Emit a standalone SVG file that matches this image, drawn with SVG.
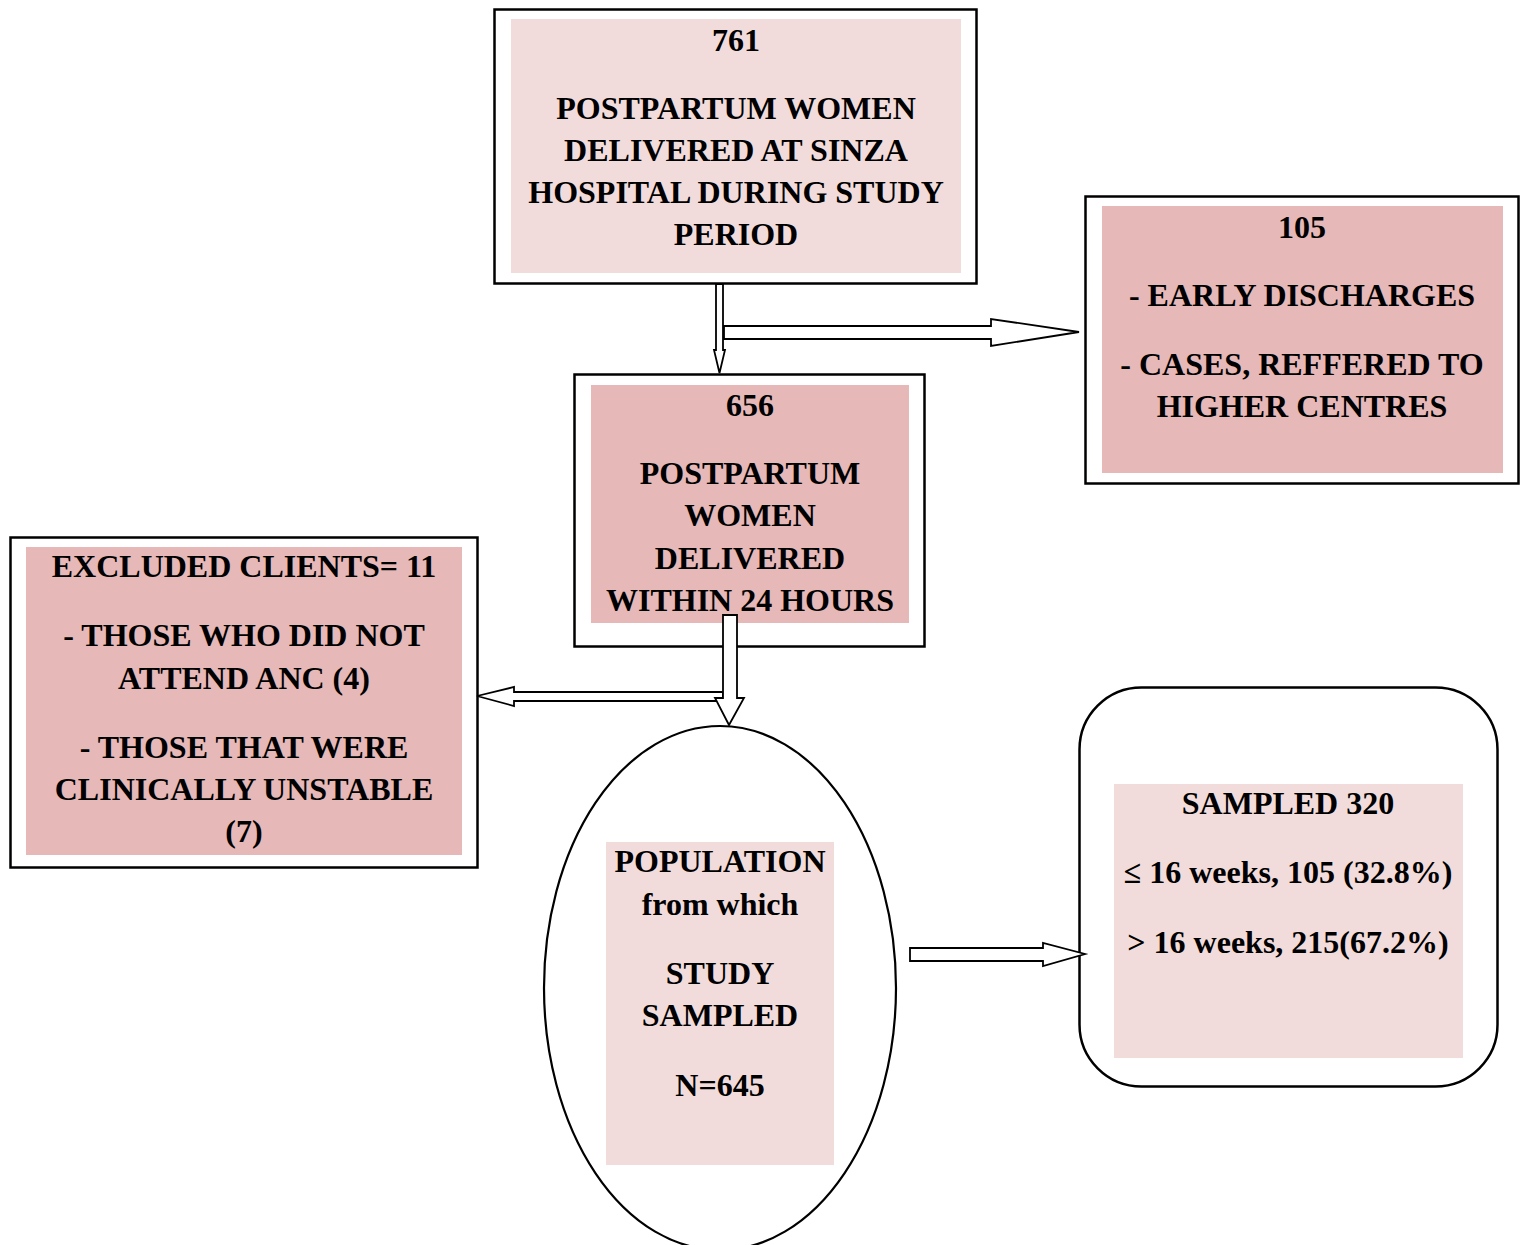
<svg xmlns="http://www.w3.org/2000/svg" width="1523" height="1245" viewBox="0 0 1523 1245">
<style>
.frame{fill:#fff;stroke:#000;stroke-width:2.5}
.light{fill:#f2dcdb}
.dark{fill:#e6b8b7}
.arrow{fill:#fff;stroke:#000;stroke-width:1.8;stroke-linejoin:miter}
text{font-family:"Liberation Serif","Times New Roman",serif;font-weight:bold;font-size:32px;text-anchor:middle;fill:#000}
</style>
<rect width="1523" height="1245" fill="#fff"/>
<g id="node-761">
<rect class="frame" x="494.5" y="9.5" width="482" height="274"/>
<rect class="light" x="511" y="19" width="450" height="254"/>
<text x="736" y="51">761</text>
<text x="736" y="119">POSTPARTUM WOMEN</text>
<text x="736" y="161">DELIVERED AT SINZA</text>
<text x="736" y="203">HOSPITAL DURING STUDY</text>
<text x="736" y="245">PERIOD</text>
</g>
<g id="node-105">
<rect class="frame" x="1085.5" y="196.5" width="433" height="287"/>
<rect class="dark" x="1102" y="206" width="401" height="267"/>
<text x="1302" y="238">105</text>
<text x="1302" y="306">- EARLY DISCHARGES</text>
<text x="1302" y="375">- CASES, REFFERED TO</text>
<text x="1302" y="417">HIGHER CENTRES</text>
</g>
<g id="node-656">
<rect class="frame" x="574.5" y="374.5" width="350" height="272"/>
<rect class="dark" x="591" y="385" width="318" height="238"/>
<text x="750" y="416">656</text>
<text x="750" y="484">POSTPARTUM</text>
<text x="750" y="526">WOMEN</text>
<text x="750" y="569">DELIVERED</text>
<text x="750" y="611">WITHIN 24 HOURS</text>
</g>
<g id="node-excluded">
<rect class="frame" x="10.5" y="537.5" width="467" height="330"/>
<rect class="dark" x="26" y="547" width="436" height="308"/>
<text x="244" y="577">EXCLUDED CLIENTS= 11</text>
<text x="244" y="646">- THOSE WHO DID NOT</text>
<text x="244" y="689">ATTEND ANC (4)</text>
<text x="244" y="758">- THOSE THAT WERE</text>
<text x="244" y="800">CLINICALLY UNSTABLE</text>
<text x="244" y="842">(7)</text>
</g>
<g id="node-population">
<ellipse cx="720" cy="988" rx="176" ry="262" fill="#fff" stroke="#000" stroke-width="2.2"/>
<rect class="light" x="606" y="842" width="228" height="323"/>
<text x="720" y="872">POPULATION</text>
<text x="720" y="915">from which</text>
<text x="720" y="984">STUDY</text>
<text x="720" y="1026">SAMPLED</text>
<text x="720" y="1096">N=645</text>
</g>
<g id="node-sampled">
<rect class="frame" x="1079.5" y="687.5" width="418" height="399" rx="62" ry="62"/>
<rect class="light" x="1114" y="784" width="349" height="274"/>
<text x="1288" y="814">SAMPLED 320</text>
<text x="1288" y="883">≤ 16 weeks, 105 (32.8%)</text>
<text x="1288" y="953">&gt; 16 weeks, 215(67.2%)</text>
</g>
<g id="connectors">
<polygon class="arrow" points="716,284 723,284 723,350 725,350 719.5,373 714,350 716,350"/>
<polygon class="arrow" points="724,326 991,326 991,319 1079,332 991,346 991,339 724,339"/>
<polygon class="arrow" points="723,692 514,692 514,687 477,696 514,706 514,701 723,701"/>
<polygon class="arrow" points="723,615 737,615 737,698 744,698 729,725 715,698 723,698"/>
<polygon class="arrow" points="910,948 1043,948 1043,943 1085,954 1043,966 1043,961 910,961"/>
</g>
</svg>
